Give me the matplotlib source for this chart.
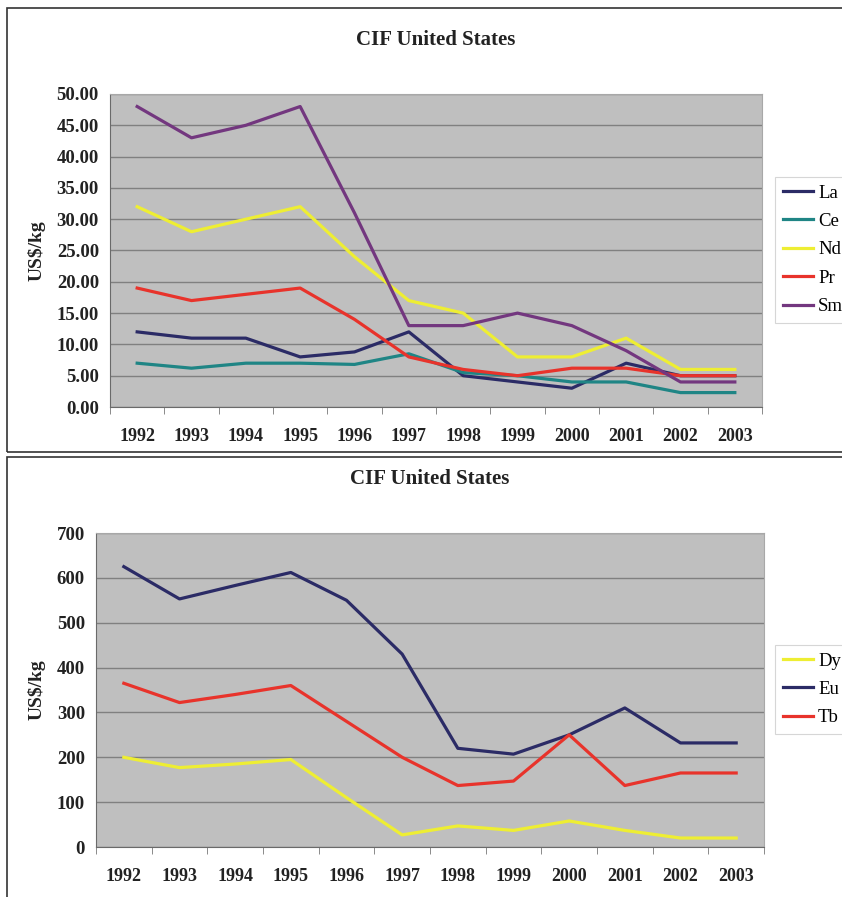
import matplotlib
matplotlib.use("Agg")
import matplotlib.pyplot as plt
from matplotlib.patches import Rectangle

plt.rcParams["font.family"] = ["Liberation Serif", "DejaVu Serif"]

years = ["1992", "1993", "1994", "1995", "1996", "1997",
         "1998", "1999", "2000", "2001", "2002", "2003"]

# precios CIF Estados Unidos, US$/kg
la = [12, 11, 11, 8, 8.8, 12, 5, 4, 3, 7, 5, 5]
ce = [7, 6.2, 7, 7, 6.8, 8.5, 5.5, 5, 4, 4, 2.3, 2.3]
nd = [32, 28, 30, 32, 24, 17, 15, 8, 8, 11, 6, 6]
pr = [19, 17, 18, 19, 14, 8, 6, 5, 6.2, 6.2, 5, 5]
sm = [48, 43, 45, 48, 31, 13, 13, 15, 13, 9, 4, 4]

dy = [200, 177, 185, 195, 110, 27, 47, 37, 58, 37, 20, 20]
eu = [625, 553, 583, 612, 550, 430, 220, 207, 250, 310, 232, 232]
tb = [365, 322, 340, 360, 280, 200, 137, 147, 250, 137, 165, 165]

NAVY = "#2b2b66"
TEAL = "#1f8585"
YELLOW = "#eeee33"
RED = "#e8332b"
PURPLE = "#73377f"

W, H = 842, 897
fig = plt.figure(figsize=(W / 100, H / 100), dpi=100)


def fx(px):
    return px / W


def fy(py):
    return 1 - py / H


# marcos de cada grafico
fig.add_artist(Rectangle((fx(7), fy(452)), 1.2, fy(8) - fy(452),
                         transform=fig.transFigure, fill=False,
                         edgecolor="#333333", linewidth=1.2))
fig.add_artist(Rectangle((fx(7), fy(950)), 1.2, fy(457) - fy(950),
                         transform=fig.transFigure, fill=False,
                         edgecolor="#333333", linewidth=1.2))


def panel(rect, series, ymax, step, fmt, legend_top):
    ax = fig.add_axes(rect)
    ax.set_facecolor("#bfbfbf")
    x = list(range(len(years)))
    for vals, color, name in series:
        ax.plot(x, vals, color=color, linewidth=2.3, label=name)
    ax.set_xlim(-0.5, len(years) - 0.5)
    ax.set_ylim(0, ymax)
    n = int(round(ymax / step))
    ax.set_yticks([i * step for i in range(n + 1)])
    ax.set_yticklabels([fmt.format(i * step) for i in range(n + 1)],
                       fontweight="bold")
    ax.set_xticks(x)
    ax.set_xticklabels(years, fontweight="bold")
    ax.set_xticks([i - 0.5 for i in range(len(years) + 1)], minor=True)
    ax.tick_params(axis="x", which="major", length=0, pad=15, labelsize=13,
                   labelcolor="#222222")
    ax.tick_params(axis="x", which="minor", length=5, direction="out",
                   color="#777777")
    ax.tick_params(axis="y", length=0, pad=8, labelsize=13.5,
                   labelcolor="#222222")
    ax.grid(axis="y", color="#808080", linewidth=1.0)
    ax.set_axisbelow(True)
    for s in ["top", "right"]:
        ax.spines[s].set_color("#a8a8a8")
    for s in ["left", "bottom"]:
        ax.spines[s].set_color("#6a6a6a")
    ax.set_ylabel("US$/kg", fontsize=14, fontweight="bold", labelpad=8,
                  color="#222222")
    ax.set_title("CIF United States", fontsize=15, fontweight="bold", pad=35,
                 color="#222222")
    leg = fig.legend(loc="upper left", bbox_to_anchor=(fx(775), fy(legend_top)),
                     bbox_transform=fig.transFigure, borderaxespad=0,
                     fontsize=13.5, handlelength=1.6, handletextpad=0.3,
                     labelspacing=0.6, frameon=True, fancybox=False,
                     handles=ax.get_lines())
    leg.get_frame().set_edgecolor("#cccccc")
    leg.get_frame().set_linewidth(0.8)
    return ax


ax1 = panel([fx(110), fy(407), fx(762) - fx(110), fy(94) - fy(407)],
            [(la, NAVY, "La"), (ce, TEAL, "Ce"), (nd, YELLOW, "Nd"),
             (pr, RED, "Pr"), (sm, PURPLE, "Sm")],
            50, 5, "{:.2f}", 177)

ax2 = panel([fx(96), fy(847), fx(764) - fx(96), fy(533) - fy(847)],
            [(dy, YELLOW, "Dy"), (eu, NAVY, "Eu"), (tb, RED, "Tb")],
            700, 100, "{:.0f}", 645)

fig.savefig("out.png", dpi=100)
